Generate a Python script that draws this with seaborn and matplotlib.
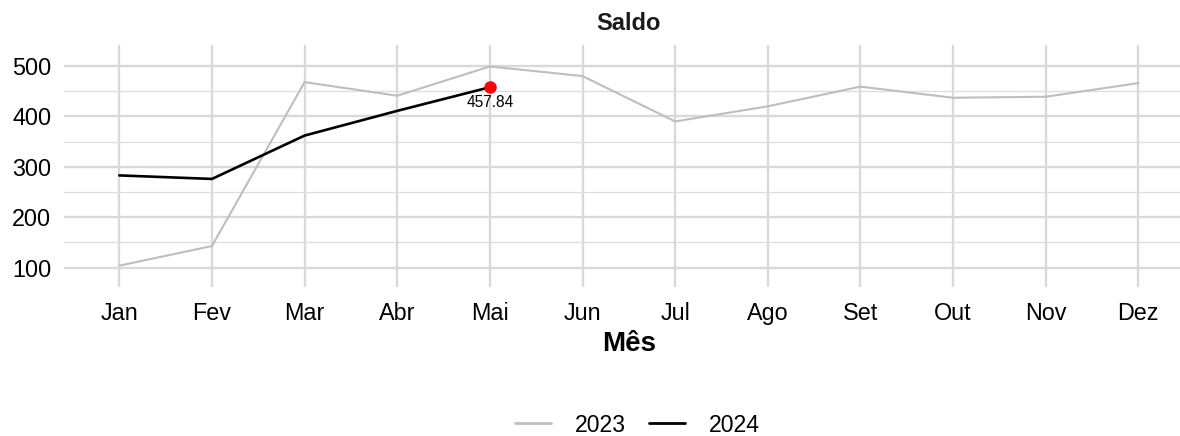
import pandas as pd
import numpy as np
import seaborn as sns
import matplotlib
matplotlib.use("Agg")
import matplotlib.pyplot as plt
from matplotlib.lines import Line2D

# dados
meses = ["Jan", "Fev", "Mar", "Abr", "Mai", "Jun", "Jul", "Ago", "Set", "Out", "Nov", "Dez"]
saldo_2023 = [104, 143, 468, 441, 499, 480, 390, 420, 459, 437, 439, 466]
saldo_2024 = [283, 276, 362, 411, 457.84]
anos = ["2023", "2024"]
cores = {"2023": "#BEBEBE", "2024": "black"}

df = pd.concat([
    pd.DataFrame({"Mes": meses, "Saldo": saldo_2023, "Ano": "2023"}),
    pd.DataFrame({"Mes": meses[:len(saldo_2024)], "Saldo": saldo_2024, "Ano": "2024"}),
], ignore_index=True)
df["x"] = df["Mes"].map({m: i for i, m in enumerate(meses)})

sns.set_style("white")
plt.rcParams["font.family"] = ["Liberation Sans", "DejaVu Sans"]
plt.rcParams["text.color"] = "black"
plt.rcParams["axes.labelcolor"] = "black"

fig = plt.figure(figsize=(11.8, 4.36), dpi=100)
ax = fig.add_axes([0.054, 1 - 287 / 436, 0.9578, 242 / 436])

for a in anos:
    sub = df[df.Ano == a]
    sns.lineplot(data=sub, x="x", y="Saldo", color=cores[a],
                 linewidth=1.5 if a == "2023" else 1.9, ax=ax, legend=False, zorder=3)

# ultimo ponto
ultimo = df[df.Ano == "2024"].iloc[-1]
ax.plot(ultimo.x, ultimo.Saldo, "o", color="red", markersize=8, zorder=4)
ax.annotate(f"{ultimo.Saldo:.2f}", (ultimo.x, ultimo.Saldo), xytext=(0, -11),
            textcoords="offset points", ha="center", va="center", fontsize=11.2)

ax.set_xlim(-0.6, 11.6)
ax.set_ylim(61.7, 541.6)
ax.set_xticks(np.arange(len(meses)))
ax.set_xticklabels(meses)
ax.set_yticks([100, 200, 300, 400, 500])
ax.set_yticks([150, 250, 350, 450], minor=True)
ax.grid(True, which="major", color="#D9D9D9", linewidth=1.7, zorder=0)
ax.grid(True, which="minor", axis="y", color="#DDDDDD", linewidth=0.9, zorder=0)
ax.set_axisbelow(True)
ax.tick_params(axis="both", which="both", length=0, labelsize=16.8, colors="black")
ax.tick_params(axis="x", pad=11)
ax.tick_params(axis="y", pad=9)
for s in ax.spines.values():
    s.set_visible(False)

ax.set_xlabel("Mês", fontsize=20, fontweight="bold", labelpad=4)
ax.set_ylabel("")
fig.text(628 / 1180, 1 - 23 / 436, "Saldo", ha="center", va="center",
         fontsize=17, fontweight="bold", color="#1a1a1a")

handles = [Line2D([0], [0], color=cores[a], linewidth=2) for a in anos]
fig.legend(handles, anos, loc="center", bbox_to_anchor=(637 / 1180, 1 - 425 / 436),
           ncol=2, frameon=False, fontsize=16.6, handlelength=1.6,
           columnspacing=1.0, handletextpad=1.0)

fig.savefig("out.png", dpi=100)
